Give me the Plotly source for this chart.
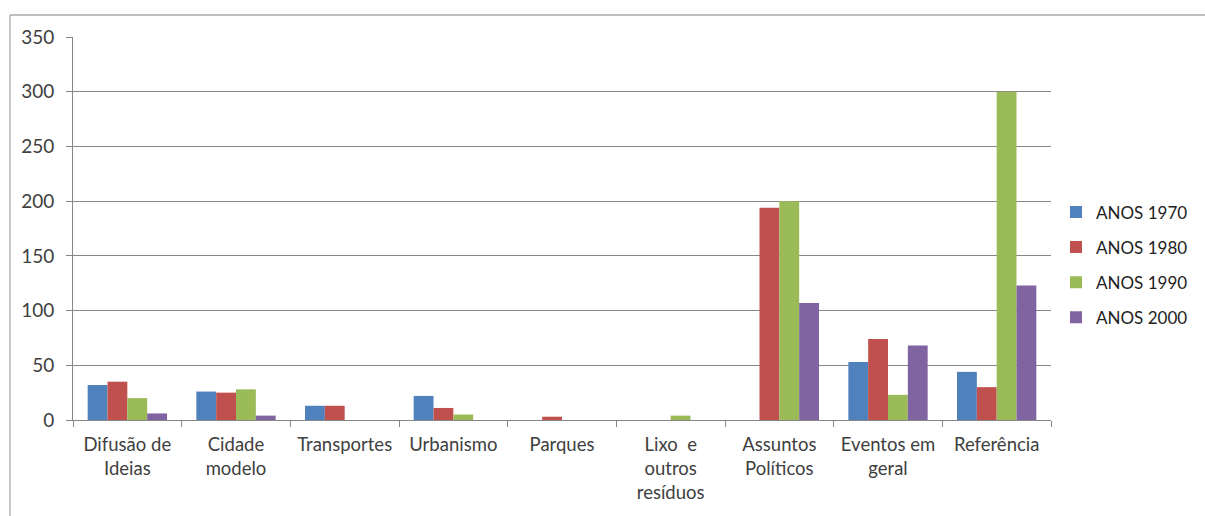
import plotly.graph_objects as go

categories = ["Difusão de<br>Ideias", "Cidade<br>modelo", "Transportes", "Urbanismo", "Parques",
              "Lixo  e<br>outros<br>resíduos", "Assuntos<br>Políticos", "Eventos em<br>geral", "Referência"]
anos_1970 = [32, 26, 13, 22, 0, 0, 0, 53, 44]
anos_1980 = [35, 25, 13, 11, 3, 0, 194, 74, 30]
anos_1990 = [20, 28, 0, 5, 0, 4, 200, 23, 300]
anos_2000 = [6, 4, 0, 0, 0, 0, 107, 68, 123]
series_names = ["ANOS 1970", "ANOS 1980", "ANOS 1990", "ANOS 2000"]
colors = ["#4F81BD", "#C0504D", "#9BBB59", "#8064A2"]
y_ticks = [0, 50, 100, 150, 200, 250, 300, 350]

FONT = "Lato, 'Open Sans', sans-serif"
fig = go.Figure()
for name, vals, c in zip(series_names, [anos_1970, anos_1980, anos_1990, anos_2000], colors):
    fig.add_trace(go.Bar(x=categories, y=vals, name=name, marker_color=c,
                         marker_line_width=0, legendgroup=name))

L, R, T, B = 73, 154, 37, 96
W, H = 1205, 516
pw, ph = W - L - R, H - T - B

def px_x(p):
    return (p - L) / pw

def px_y(p):
    return (H - B - p) / ph

border_col = "#aaaaaa"
fig.add_shape(type="line", xref="paper", yref="paper", x0=px_x(10), x1=px_x(1210),
              y0=px_y(15), y1=px_y(15), line=dict(color=border_col, width=1.3))
fig.add_shape(type="line", xref="paper", yref="paper", x0=px_x(10), x1=px_x(10),
              y0=px_y(15), y1=px_y(520), line=dict(color=border_col, width=1.3))

fig.update_layout(
    width=W, height=H,
    margin=dict(l=L, r=R, t=T, b=B, autoexpand=False),
    paper_bgcolor="white", plot_bgcolor="white",
    barmode="group", bargap=0.27, bargroupgap=0,
    font=dict(family=FONT, size=19, color="#404040"),
    legend=dict(x=px_x(1056), xanchor="left", y=0.405, yanchor="middle",
                font=dict(size=17, color="#222222"), tracegroupgap=10,
                itemwidth=30, bgcolor="rgba(0,0,0,0)"),
    xaxis=dict(tickson="boundaries", ticks="outside", ticklen=6, tickcolor="#868686",
               showline=True, linecolor="#868686", linewidth=1, showgrid=False,
               tickfont=dict(size=18.5, color="#404040"), ticklabelstandoff=8),
    yaxis=dict(range=[0, 350], tickvals=y_ticks, ticks="outside", ticklen=6,
               tickcolor="#868686", showline=True, linecolor="#868686", linewidth=1,
               showgrid=True, gridcolor="#868686", gridwidth=1, zeroline=False,
               tickfont=dict(size=19, color="#404040"), ticklabelstandoff=8),
)
fig.write_html("out.html")
